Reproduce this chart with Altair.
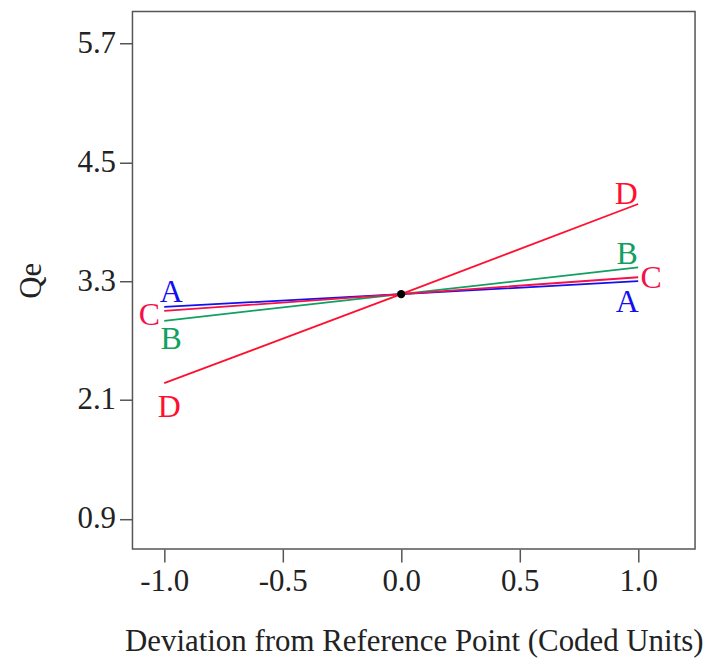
import altair as alt
import pandas as pd

factors = ["A", "B", "C", "D"]
colors = ["#1010F0", "#10A060", "#F5104A", "#FF1030"]
x_coded = [-1.0, 0.0, 1.0]
y_low = [3.04, 2.90, 3.00, 2.27]
y_center = 3.17
y_high = [3.30, 3.44, 3.34, 4.08]

rows = []
for f, lo, hi in zip(factors, y_low, y_high):
    for x, y in zip(x_coded, [lo, y_center, hi]):
        rows.append({"factor": f, "x": x, "y": y})
df = pd.DataFrame(rows)

xs = alt.Scale(domain=[-1.134, 1.24], nice=False, zero=False)
ys = alt.Scale(domain=[0.594, 6.026], nice=False, zero=False)
cscale = alt.Scale(domain=factors, range=colors)

FONT = "Liberation Serif"
LBL = "datum.value < 0 ? '-' + format(-datum.value, '.1f') : format(datum.value, '.1f')"

lines = alt.Chart(df).mark_line(strokeWidth=1.8).encode(
    x=alt.X("x:Q", scale=xs,
            axis=alt.Axis(title="Deviation from Reference Point (Coded Units)",
                          values=[-1.0, -0.5, 0.0, 0.5, 1.0], labelExpr=LBL,
                          grid=False, domain=False, tickSize=13, tickColor="#555555",
                          tickWidth=1.5, labelFont=FONT, labelFontSize=31,
                          labelColor="#222222", labelPadding=5,
                          titleFont=FONT, titleFontSize=31, titleFontWeight="normal",
                          titleColor="#222222", titlePadding=30)),
    y=alt.Y("y:Q", scale=ys,
            axis=alt.Axis(title="Qe", values=[0.9, 2.1, 3.3, 4.5, 5.7], labelExpr=LBL,
                          grid=False, domain=False, tickSize=13, tickColor="#555555",
                          tickWidth=1.5, labelFont=FONT, labelFontSize=31,
                          labelColor="#222222", labelPadding=4,
                          titleFont=FONT, titleFontSize=31, titleFontWeight="normal",
                          titleColor="#222222", titlePadding=30)),
    color=alt.Color("factor:N", scale=cscale, legend=None),
    detail="factor:N",
)

center = alt.Chart(pd.DataFrame({"x": [0.0], "y": [y_center]})).mark_circle(
    size=70, color="black", opacity=1).encode(x=alt.X("x:Q", scale=xs), y=alt.Y("y:Q", scale=ys))

# label offsets (pixels) from line endpoints
left_off = {"A": (7, -15), "B": (7, 18), "C": (-15, 4), "D": (5, 24)}
right_off = {"A": (-11, 21), "B": (-11, -13), "C": (13, 1), "D": (-12, -10)}

layers = [lines, center]
for f, c, lo, hi in zip(factors, colors, y_low, y_high):
    for xv, yv, off in [(-1.0, lo, left_off[f]), (1.0, hi, right_off[f])]:
        d = pd.DataFrame({"x": [xv], "y": [yv], "t": [f]})
        layers.append(
            alt.Chart(d).mark_text(font=FONT, fontSize=32, color=c, dx=off[0], dy=off[1],
                                   align="center", baseline="middle").encode(
                x=alt.X("x:Q", scale=xs), y=alt.Y("y:Q", scale=ys), text="t:N")
        )

chart = alt.layer(*layers).properties(
    width=565, height=540,
    autosize=alt.AutoSizeParams(type="none"),
    padding={"left": 125, "top": 2, "right": 12, "bottom": 110},
    background="white",
).configure_view(stroke="#555555", strokeWidth=1.5)

chart.save("out.html", embed_options={"renderer": "svg", "actions": False})
